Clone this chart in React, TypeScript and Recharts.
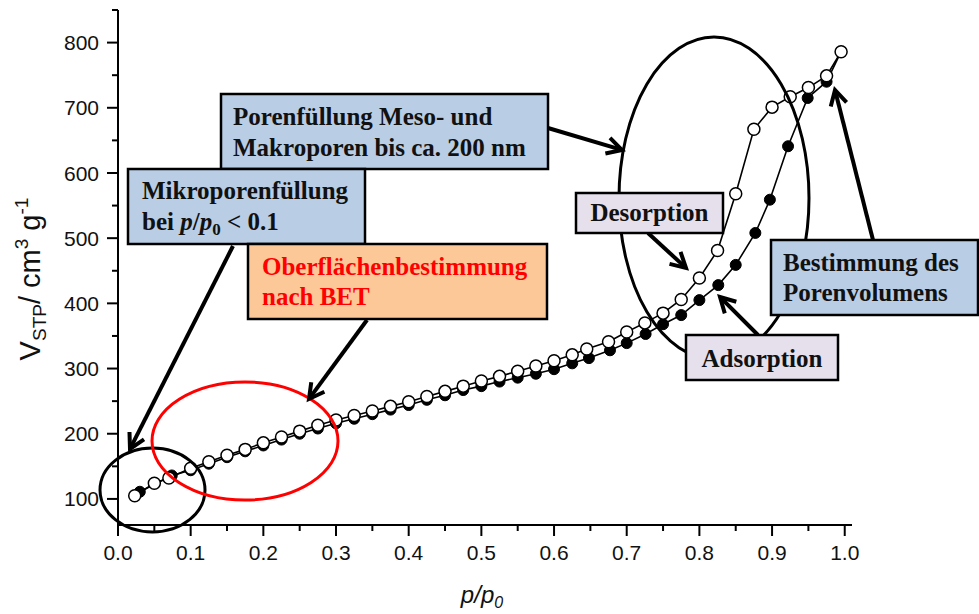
import React from 'react';
import { LineChart, Line, XAxis, YAxis } from 'recharts';

// relative pressure p/p0 and adsorbed volume (cm3/g STP)
const adsorptionP = [0.03, 0.074, 0.1, 0.125, 0.15, 0.175, 0.2, 0.225, 0.25, 0.275, 0.3, 0.325, 0.35, 0.375, 0.4, 0.425, 0.45, 0.475, 0.5, 0.525, 0.55, 0.575, 0.6, 0.625, 0.648, 0.677, 0.7, 0.726, 0.75, 0.775, 0.8, 0.826, 0.85, 0.877, 0.897, 0.922, 0.949, 0.975, 0.995];
const adsorptionV = [111, 136, 144, 154, 164, 173, 182, 191, 200, 208, 216, 223, 230, 237, 244, 252, 259, 267, 273, 280, 286, 292, 299, 308, 316, 328, 339, 353, 368, 382, 405, 428, 459, 508, 559, 641, 715, 740, 786];

const desorptionP = [0.023, 0.05, 0.07, 0.1, 0.125, 0.15, 0.175, 0.2, 0.225, 0.25, 0.275, 0.3, 0.325, 0.35, 0.375, 0.4, 0.425, 0.45, 0.475, 0.5, 0.525, 0.55, 0.575, 0.6, 0.625, 0.645, 0.675, 0.7, 0.725, 0.75, 0.775, 0.8, 0.825, 0.85, 0.875, 0.9, 0.925, 0.95, 0.975, 0.995];
const desorptionV = [105, 124, 132, 147, 157, 167, 176, 186, 195, 204, 213, 221, 228, 235, 242, 249, 257, 265, 273, 281, 288, 296, 304, 312, 321, 330, 341, 356, 370, 385, 406, 439, 481, 568, 667, 701, 717, 731, 749, 786];

const xTicks = [0, 0.05, 0.1, 0.15, 0.2, 0.25, 0.3, 0.35, 0.4, 0.45, 0.5, 0.55, 0.6, 0.65, 0.7, 0.75, 0.8, 0.85, 0.9, 0.95, 1.0];
const yTicks = [100, 150, 200, 250, 300, 350, 400, 450, 500, 550, 600, 650, 700, 750, 800, 850];

const adsorption = adsorptionP.map((p, i) => ({ p, v: adsorptionV[i] }));
const desorption = desorptionP.map((p, i) => ({ p, v: desorptionV[i] }));

const SANS = "'Liberation Sans', Arial, sans-serif";
const SERIF = "'Liberation Serif', 'Times New Roman', serif";

const XTick = (props: any) => {
  const { x, y, payload } = props;
  const v = payload.value;
  const major = Math.round(v * 100) % 10 === 0;
  return (
    <g>
      <line x1={x} x2={x} y1={y} y2={y + (major ? 11 : 6)} stroke="#000" strokeWidth={2} />
      {major && (
        <text x={x} y={y + 35} textAnchor="middle" fontSize={21} fontFamily={SANS} fill="#111">
          {v.toFixed(1)}
        </text>
      )}
    </g>
  );
};

const YTick = (props: any) => {
  const { x, y, payload } = props;
  const v = payload.value;
  const major = v % 100 === 0;
  return (
    <g>
      <line x1={x - (major ? 11 : 6)} x2={x} y1={y} y2={y} stroke="#000" strokeWidth={2} />
      {major && (
        <text x={x - 19} y={y} dy="0.36em" textAnchor="end" fontSize={21} fontFamily={SANS} fill="#111">
          {v}
        </text>
      )}
    </g>
  );
};

function Arrow({ x1, y1, x2, y2 }: { x1: number; y1: number; x2: number; y2: number }) {
  const a = Math.atan2(y2 - y1, x2 - x1);
  const len = 17;
  const spread = 0.5;
  const h1x = x2 - len * Math.cos(a - spread);
  const h1y = y2 - len * Math.sin(a - spread);
  const h2x = x2 - len * Math.cos(a + spread);
  const h2y = y2 - len * Math.sin(a + spread);
  return (
    <g stroke="#000" strokeWidth={4} fill="none" strokeLinecap="butt">
      <line x1={x1} y1={y1} x2={x2 - 2 * Math.cos(a)} y2={y2 - 2 * Math.sin(a)} />
      <polyline points={`${h1x},${h1y} ${x2},${y2} ${h2x},${h2y}`} strokeLinejoin="miter" />
    </g>
  );
}

function Box({ x, y, w, h, fill }: { x: number; y: number; w: number; h: number; fill: string }) {
  return <rect x={x} y={y} width={w} height={h} fill={fill} stroke="#000" strokeWidth={2.5} />;
}

function Annotations() {
  const t = { fontFamily: SERIF, fontWeight: 'bold' as const, fontSize: 25, fill: '#111' };
  return (
    <svg width={979} height={614} style={{ position: 'absolute', left: 0, top: 0, pointerEvents: 'none' }}>
      {/* axis titles */}
      <text transform="rotate(-90)" x={-279} y={40} textAnchor="middle" fontSize={29} fontFamily={SANS} fill="#111">
        V<tspan fontSize={19} dy={6}>STP</tspan>
        <tspan dy={-6}>/ cm</tspan>
        <tspan fontSize={19} dy={-12}>3</tspan>
        <tspan dy={12}> g</tspan>
        <tspan fontSize={19} dy={-12}>-1</tspan>
      </text>
      <text x={482} y={603} textAnchor="middle" fontSize={24} fontFamily={SANS} fontStyle="italic" fill="#111">
        p/p<tspan fontSize={16} dy={5}>0</tspan>
      </text>

      {/* ellipses */}
      <ellipse cx={152.5} cy={490} rx={52.5} ry={42} fill="none" stroke="#000" strokeWidth={3} />
      <ellipse cx={245} cy={441} rx={93} ry={59} fill="none" stroke="#ff0000" strokeWidth={3} />
      <ellipse cx={714} cy={198} rx={95} ry={161} fill="none" stroke="#000" strokeWidth={3} />

      {/* arrows */}
      <Arrow x1={233} y1={246} x2={130} y2={449} />
      <Arrow x1={367} y1={320} x2={309} y2={399} />
      <Arrow x1={548} y1={128} x2={622} y2={150} />
      <Arrow x1={648} y1={233} x2={686} y2={268} />
      <Arrow x1={758} y1={335} x2={720} y2={297} />
      <Arrow x1={873} y1={240} x2={835} y2={90} />

      {/* boxes */}
      <Box x={221} y={94} w={327} h={75} fill="#b9cde5" />
      <text x={233} y={125} {...t}>Porenfüllung Meso- und</text>
      <text x={233} y={156} {...t}>Makroporen bis ca. 200 nm</text>

      <Box x={128} y={169} w={237} h={75} fill="#b9cde5" />
      <text x={142} y={199} {...t}>Mikroporenfüllung</text>
      <text x={142} y={230} {...t}>
        bei <tspan fontStyle="italic">p</tspan>/<tspan fontStyle="italic">p</tspan>
        <tspan fontSize={17} dy={5}>0</tspan>
        <tspan dy={-5}> &lt; 0.1</tspan>
      </text>

      <Box x={248} y={244} w={299} h={75} fill="#fcc897" />
      <text x={262} y={275} {...t} fill="#ff0000">Oberflächenbestimmung</text>
      <text x={262} y={305} {...t} fill="#ff0000">nach BET</text>

      <Box x={576} y={193} w={147} h={40} fill="#e5e0ec" />
      <text x={649.5} y={221} textAnchor="middle" {...t}>Desorption</text>

      <Box x={686} y={335} w={152} h={45} fill="#e5e0ec" />
      <text x={762} y={367} textAnchor="middle" {...t}>Adsorption</text>

      <Box x={771} y={240} w={207} h={75} fill="#b9cde5" />
      <text x={783} y={271} {...t}>Bestimmung des</text>
      <text x={783} y={301} {...t}>Porenvolumens</text>
    </svg>
  );
}

export default function App() {
  return (
    <div style={{ position: 'absolute', left: 0, top: 0, width: 979, height: 614, background: '#fff' }}>
      <LineChart width={979} height={614} margin={{ top: 10, right: 127, bottom: 39, left: 0 }}>
        <XAxis
          dataKey="p"
          type="number"
          domain={[0, 1.01]}
          ticks={xTicks}
          interval={0}
          height={50}
          tickSize={0}
          tickMargin={0}
          tickLine={false}
          axisLine={{ stroke: '#000', strokeWidth: 2 }}
          tick={(p: any) => <XTick {...p} />}
          allowDuplicatedCategory={false}
        />
        <YAxis
          type="number"
          domain={[60, 850]}
          ticks={yTicks}
          interval={0}
          width={118}
          tickSize={0}
          tickMargin={0}
          tickLine={false}
          axisLine={{ stroke: '#000', strokeWidth: 2 }}
          tick={(p: any) => <YTick {...p} />}
        />
        <Line
          data={adsorption}
          dataKey="v"
          type="linear"
          stroke="#000"
          strokeWidth={1.6}
          dot={{ r: 5.5, fill: '#000', stroke: '#000', strokeWidth: 1 }}
          isAnimationActive={false}
        />
        <Line
          data={desorption}
          dataKey="v"
          type="linear"
          stroke="#000"
          strokeWidth={1.6}
          dot={{ r: 6, fill: '#fff', stroke: '#000', strokeWidth: 1.5 }}
          isAnimationActive={false}
        />
      </LineChart>
      <Annotations />
    </div>
  );
}
